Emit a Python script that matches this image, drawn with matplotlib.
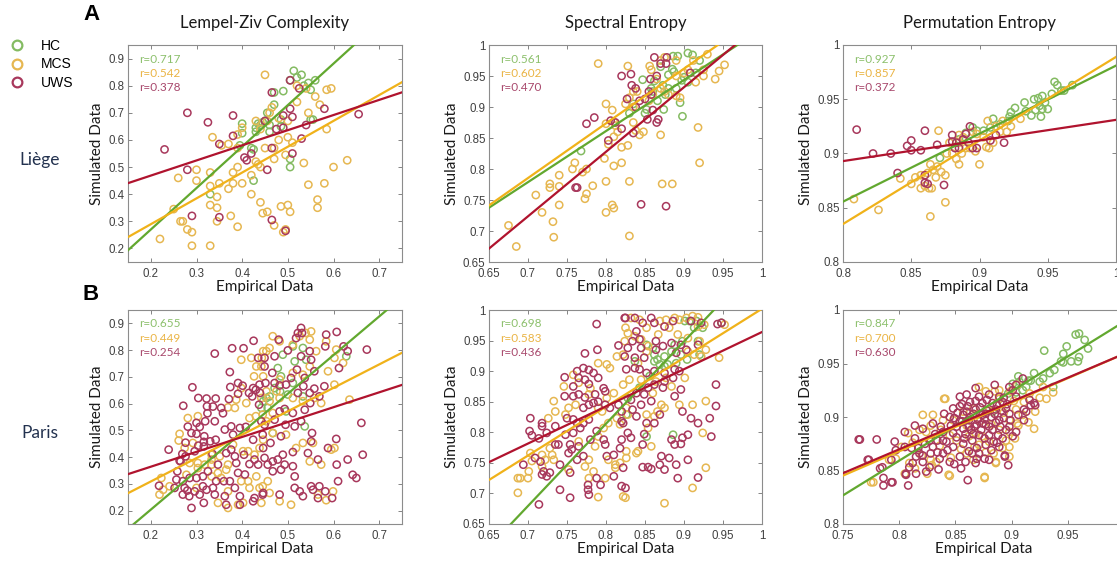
import numpy as np
import matplotlib
matplotlib.use('Agg')
import matplotlib.pyplot as plt
from matplotlib.lines import Line2D
from matplotlib.ticker import FuncFormatter

plt.rcParams['font.family'] = ['Liberation Sans', 'DejaVu Sans']

groups = ['HC', 'MCS', 'UWS']
metrics = ['Lempel-Ziv Complexity', 'Spectral Entropy', 'Permutation Entropy']
sites = ['Liège', 'Paris']

marker_colors = ['#84bb62', '#e6b751', '#a8385c']
line_colors = ['#62a82f', '#f0b21a', '#b0132e']
text_colors = ['#8cc06c', '#eab445', '#a8486c']

# correlation coefficients per metric, in group order HC, MCS, UWS
r_liege = [[0.717, 0.542, 0.378], [0.561, 0.602, 0.470], [0.927, 0.857, 0.372]]
r_paris = [[0.655, 0.449, 0.254], [0.698, 0.583, 0.436], [0.847, 0.700, 0.630]]

# least-squares fits (slope, intercept) per metric and group
fit_liege = [[(1.529, -0.036), (0.952, 0.099), (0.558, 0.357)],
             [(0.824, 0.202), (0.882, 0.168), (1.041, -0.005)],
             [(0.627, 0.354), (0.770, 0.219), (0.190, 0.741)]]
fit_paris = [[(1.444, -0.085), (0.875, 0.134), (0.556, 0.253)],
             [(1.345, -0.262), (0.800, 0.202), (0.608, 0.356)],
             [(0.649, 0.340), (0.455, 0.504), (0.446, 0.513)]]

# ---- Liège, Lempel-Ziv complexity (empirical, simulated)
lzc_liege_hc = [(0.513, 0.855), (0.53, 0.84), (0.52, 0.83), (0.505, 0.82), (0.535, 0.80), (0.55, 0.785),
                (0.545, 0.81), (0.56, 0.82), (0.49, 0.78), (0.47, 0.775), (0.47, 0.73), (0.455, 0.70),
                (0.445, 0.665), (0.44, 0.655), (0.43, 0.645), (0.435, 0.66), (0.45, 0.67), (0.46, 0.655),
                (0.40, 0.66), (0.40, 0.625), (0.395, 0.58), (0.42, 0.57), (0.425, 0.565), (0.425, 0.45),
                (0.33, 0.40), (0.505, 0.53), (0.505, 0.50), (0.55, 0.675), (0.555, 0.675), (0.485, 0.675),
                (0.46, 0.63), (0.485, 0.65), (0.43, 0.63)]
lzc_liege_mcs = [(0.45, 0.84), (0.52, 0.80), (0.54, 0.79), (0.56, 0.76), (0.585, 0.785), (0.595, 0.79),
                 (0.57, 0.73), (0.545, 0.70), (0.52, 0.74), (0.50, 0.67), (0.48, 0.68), (0.465, 0.72),
                 (0.46, 0.70), (0.455, 0.67), (0.44, 0.64), (0.43, 0.67), (0.40, 0.645), (0.39, 0.62),
                 (0.37, 0.585), (0.335, 0.61), (0.39, 0.57), (0.45, 0.57), (0.47, 0.57), (0.48, 0.60),
                 (0.50, 0.61), (0.51, 0.59), (0.43, 0.52), (0.435, 0.51), (0.44, 0.50), (0.39, 0.50),
                 (0.38, 0.48), (0.42, 0.47), (0.40, 0.44), (0.47, 0.53), (0.495, 0.545), (0.535, 0.515),
                 (0.545, 0.435), (0.58, 0.44), (0.585, 0.64), (0.60, 0.50), (0.63, 0.525), (0.33, 0.48),
                 (0.35, 0.44), (0.33, 0.43), (0.26, 0.46), (0.30, 0.45), (0.37, 0.42), (0.38, 0.44),
                 (0.345, 0.39), (0.33, 0.36), (0.345, 0.35), (0.265, 0.30), (0.27, 0.30), (0.25, 0.345),
                 (0.22, 0.235), (0.28, 0.27), (0.29, 0.26), (0.29, 0.21), (0.33, 0.21), (0.345, 0.30),
                 (0.375, 0.32), (0.39, 0.28), (0.42, 0.40), (0.44, 0.37), (0.445, 0.33), (0.455, 0.335),
                 (0.47, 0.285), (0.485, 0.355), (0.49, 0.26), (0.50, 0.36), (0.505, 0.335), (0.495, 0.27),
                 (0.565, 0.38), (0.565, 0.35), (0.355, 0.58), (0.30, 0.49)]
lzc_liege_uws = [(0.505, 0.82), (0.525, 0.79), (0.465, 0.775), (0.475, 0.64), (0.45, 0.67), (0.49, 0.69),
                 (0.505, 0.715), (0.51, 0.685), (0.49, 0.645), (0.53, 0.605), (0.54, 0.655), (0.58, 0.715),
                 (0.655, 0.695), (0.38, 0.69), (0.38, 0.615), (0.325, 0.665), (0.28, 0.70), (0.35, 0.585),
                 (0.23, 0.565), (0.28, 0.49), (0.41, 0.525), (0.405, 0.535), (0.42, 0.55), (0.465, 0.57),
                 (0.455, 0.49), (0.51, 0.55), (0.29, 0.32), (0.35, 0.315), (0.465, 0.305), (0.495, 0.265)]

# ---- Liège, spectral entropy
se_liege_hc = [(0.905, 0.987), (0.911, 0.984), (0.886, 0.982), (0.892, 0.982), (0.92, 0.975), (0.885, 0.961),
               (0.887, 0.957), (0.88, 0.952), (0.90, 0.948), (0.905, 0.94), (0.897, 0.943), (0.847, 0.944),
               (0.862, 0.942), (0.873, 0.935), (0.88, 0.93), (0.89, 0.93), (0.895, 0.907), (0.898, 0.885),
               (0.874, 0.896), (0.876, 0.92), (0.858, 0.93), (0.852, 0.896), (0.866, 0.91), (0.85, 0.89),
               (0.768, 0.829), (0.835, 0.905), (0.86, 0.925), (0.83, 0.89), (0.915, 0.955), (0.87, 0.965)]
se_liege_mcs = [(0.79, 0.97), (0.828, 0.966), (0.856, 0.966), (0.858, 0.96), (0.87, 0.975), (0.875, 0.98),
                (0.89, 0.975), (0.912, 0.975), (0.925, 0.96), (0.93, 0.985), (0.945, 0.958), (0.952, 0.968),
                (0.94, 0.945), (0.925, 0.95), (0.915, 0.94), (0.905, 0.96), (0.90, 0.955), (0.89, 0.95),
                (0.835, 0.925), (0.84, 0.925), (0.83, 0.915), (0.835, 0.9), (0.825, 0.905), (0.855, 0.91),
                (0.86, 0.92), (0.865, 0.945), (0.87, 0.93), (0.875, 0.925), (0.88, 0.92), (0.89, 0.918),
                (0.895, 0.915), (0.80, 0.905), (0.808, 0.895), (0.81, 0.876), (0.815, 0.86), (0.81, 0.852),
                (0.803, 0.84), (0.82, 0.835), (0.828, 0.838), (0.835, 0.875), (0.838, 0.862), (0.843, 0.855),
                (0.848, 0.86), (0.87, 0.855), (0.798, 0.817), (0.76, 0.81), (0.757, 0.80), (0.775, 0.80),
                (0.77, 0.795), (0.74, 0.79), (0.81, 0.805), (0.82, 0.81), (0.728, 0.776), (0.728, 0.77),
                (0.74, 0.772), (0.71, 0.758), (0.775, 0.76), (0.773, 0.752), (0.783, 0.773), (0.80, 0.78),
                (0.74, 0.742), (0.808, 0.742), (0.81, 0.737), (0.80, 0.73), (0.718, 0.73), (0.732, 0.715),
                (0.733, 0.69), (0.675, 0.709), (0.685, 0.675), (0.83, 0.78), (0.83, 0.692), (0.872, 0.776),
                (0.885, 0.776), (0.918, 0.867), (0.92, 0.81), (0.80, 0.873), (0.812, 0.87)]
se_liege_uws = [(0.862, 0.98), (0.878, 0.98), (0.877, 0.97), (0.865, 0.95), (0.857, 0.945), (0.82, 0.95),
                (0.832, 0.953), (0.833, 0.935), (0.838, 0.93), (0.827, 0.913), (0.843, 0.91), (0.855, 0.925),
                (0.858, 0.92), (0.85, 0.913), (0.86, 0.895), (0.853, 0.88), (0.867, 0.88), (0.865, 0.875),
                (0.838, 0.90), (0.835, 0.858), (0.82, 0.865), (0.812, 0.875), (0.806, 0.878), (0.785, 0.883),
                (0.775, 0.873), (0.803, 0.846), (0.761, 0.77), (0.763, 0.77), (0.845, 0.743), (0.877, 0.74),
                (0.908, 0.955), (0.87, 0.97)]

# ---- Liège, permutation entropy
pe_liege_hc = [(0.968, 0.963), (0.955, 0.966), (0.957, 0.963), (0.96, 0.958), (0.953, 0.955), (0.948, 0.947),
               (0.946, 0.941), (0.95, 0.941), (0.945, 0.934), (0.944, 0.944), (0.941, 0.94), (0.94, 0.95),
               (0.943, 0.951), (0.946, 0.953), (0.938, 0.935), (0.934, 0.939), (0.933, 0.947), (0.926, 0.942),
               (0.923, 0.938), (0.922, 0.934), (0.921, 0.93), (0.915, 0.927), (0.91, 0.932), (0.908, 0.924),
               (0.903, 0.921), (0.898, 0.921), (0.895, 0.924), (0.89, 0.919), (0.885, 0.913), (0.871, 0.896),
               (0.962, 0.958)]
pe_liege_mcs = [(0.808, 0.858), (0.826, 0.848), (0.864, 0.842), (0.875, 0.855), (0.85, 0.872), (0.853, 0.878),
                (0.857, 0.88), (0.862, 0.882), (0.864, 0.89), (0.866, 0.885), (0.869, 0.888), (0.868, 0.878),
                (0.872, 0.883), (0.875, 0.88), (0.857, 0.868), (0.86, 0.87), (0.863, 0.868), (0.865, 0.868),
                (0.842, 0.877), (0.87, 0.921), (0.876, 0.9), (0.88, 0.9), (0.883, 0.895), (0.885, 0.89),
                (0.887, 0.9), (0.89, 0.905), (0.893, 0.905), (0.897, 0.902), (0.9, 0.89), (0.888, 0.915),
                (0.885, 0.917), (0.895, 0.92), (0.898, 0.918), (0.903, 0.915), (0.905, 0.906), (0.907, 0.905),
                (0.91, 0.91), (0.906, 0.93), (0.912, 0.925), (0.917, 0.93), (0.915, 0.92), (0.92, 0.92),
                (0.923, 0.925), (0.93, 0.932), (0.885, 0.91), (0.878, 0.91)]
pe_liege_uws = [(0.81, 0.922), (0.822, 0.9), (0.835, 0.9), (0.84, 0.882), (0.847, 0.907), (0.85, 0.912),
                (0.85, 0.903), (0.857, 0.903), (0.86, 0.921), (0.86, 0.88), (0.86, 0.873), (0.862, 0.872),
                (0.869, 0.908), (0.874, 0.871), (0.88, 0.917), (0.88, 0.911), (0.882, 0.905), (0.885, 0.905),
                (0.888, 0.913), (0.89, 0.918), (0.893, 0.925), (0.892, 0.91), (0.895, 0.905), (0.898, 0.905),
                (0.908, 0.912), (0.912, 0.917), (0.918, 0.91), (0.883, 0.91)]

# ---- Paris, Lempel-Ziv complexity
lzc_paris_hc = [(0.511, 0.814), (0.533, 0.808), (0.489, 0.783), (0.540, 0.764), (0.485, 0.702), (0.471, 0.658),
                (0.511, 0.677), (0.460, 0.627), (0.453, 0.621), (0.533, 0.627), (0.537, 0.515), (0.467, 0.490),
                (0.496, 0.571), (0.515, 0.758), (0.478, 0.733), (0.456, 0.584), (0.500, 0.634), (0.628, 0.777),
                (0.483, 0.646), (0.446, 0.609), (0.442, 0.584)]
lzc_paris_mcs = [(0.398, 0.764), (0.420, 0.771), (0.431, 0.739), (0.446, 0.796), (0.426, 0.702), (0.446, 0.702),
                 (0.398, 0.658), (0.387, 0.615), (0.409, 0.602), (0.369, 0.586), (0.384, 0.584), (0.430, 0.553),
                 (0.416, 0.546), (0.303, 0.553), (0.281, 0.546), (0.263, 0.487), (0.261, 0.462), (0.292, 0.453),
                 (0.274, 0.434), (0.303, 0.378), (0.285, 0.378), (0.333, 0.409), (0.351, 0.403), (0.369, 0.372),
                 (0.347, 0.341), (0.365, 0.353), (0.402, 0.422), (0.413, 0.422), (0.427, 0.409), (0.438, 0.434),
                 (0.333, 0.372), (0.303, 0.359), (0.223, 0.322), (0.227, 0.278), (0.241, 0.291), (0.219, 0.260),
                 (0.300, 0.285), (0.333, 0.328), (0.354, 0.322), (0.398, 0.310), (0.413, 0.310), (0.431, 0.328),
                 (0.438, 0.285), (0.369, 0.272), (0.416, 0.285), (0.347, 0.229), (0.369, 0.210), (0.391, 0.222),
                 (0.402, 0.229), (0.318, 0.372), (0.278, 0.334), (0.380, 0.447), (0.446, 0.465), (0.443, 0.771),
                 (0.333, 0.391), (0.467, 0.852), (0.453, 0.796), (0.442, 0.739), (0.460, 0.808), (0.482, 0.833),
                 (0.511, 0.820), (0.526, 0.852), (0.548, 0.839), (0.551, 0.870), (0.539, 0.864), (0.562, 0.796),
                 (0.584, 0.833), (0.606, 0.802), (0.602, 0.771), (0.621, 0.752), (0.588, 0.721), (0.548, 0.739),
                 (0.533, 0.708), (0.511, 0.715), (0.482, 0.690), (0.475, 0.646), (0.453, 0.646), (0.442, 0.621),
                 (0.460, 0.609), (0.482, 0.621), (0.511, 0.621), (0.533, 0.609), (0.558, 0.621), (0.573, 0.602),
                 (0.602, 0.671), (0.635, 0.615), (0.445, 0.559), (0.467, 0.565), (0.453, 0.534), (0.467, 0.490),
                 (0.496, 0.484), (0.518, 0.434), (0.533, 0.453), (0.555, 0.453), (0.548, 0.384), (0.595, 0.428),
                 (0.602, 0.434), (0.573, 0.372), (0.456, 0.310), (0.445, 0.291), (0.442, 0.229), (0.460, 0.266),
                 (0.482, 0.235), (0.507, 0.222), (0.566, 0.260), (0.584, 0.239), (0.599, 0.272)]
lzc_paris_uws = [(0.425, 0.835), (0.340, 0.787), (0.378, 0.807), (0.403, 0.807), (0.291, 0.661), (0.271, 0.592),
                 (0.304, 0.621), (0.322, 0.619), (0.342, 0.619), (0.323, 0.590), (0.336, 0.589), (0.371, 0.617),
                 (0.391, 0.637), (0.373, 0.718), (0.401, 0.667), (0.424, 0.658), (0.374, 0.662), (0.415, 0.640),
                 (0.430, 0.652), (0.439, 0.640), (0.324, 0.564), (0.358, 0.564), (0.340, 0.534), (0.319, 0.534),
                 (0.300, 0.528), (0.307, 0.513), (0.281, 0.514), (0.289, 0.490), (0.300, 0.487), (0.317, 0.478),
                 (0.316, 0.457), (0.330, 0.459), (0.342, 0.465), (0.362, 0.503), (0.376, 0.515), (0.380, 0.484),
                 (0.395, 0.509), (0.408, 0.513), (0.424, 0.465), (0.316, 0.440), (0.304, 0.443), (0.335, 0.412),
                 (0.276, 0.454), (0.276, 0.403), (0.269, 0.412), (0.265, 0.384), (0.239, 0.428), (0.296, 0.422),
                 (0.365, 0.415), (0.376, 0.428), (0.384, 0.403), (0.387, 0.378), (0.404, 0.409), (0.416, 0.374),
                 (0.427, 0.391), (0.435, 0.372), (0.347, 0.372), (0.325, 0.347), (0.314, 0.328), (0.300, 0.322),
                 (0.285, 0.322), (0.270, 0.310), (0.256, 0.316), (0.252, 0.285), (0.274, 0.285), (0.280, 0.275),
                 (0.270, 0.260), (0.284, 0.254), (0.296, 0.272), (0.314, 0.291), (0.322, 0.278), (0.343, 0.310),
                 (0.360, 0.310), (0.373, 0.310), (0.391, 0.341), (0.406, 0.335), (0.384, 0.285), (0.395, 0.254),
                 (0.362, 0.254), (0.340, 0.260), (0.336, 0.285), (0.307, 0.260), (0.289, 0.210), (0.316, 0.229),
                 (0.365, 0.222), (0.395, 0.222), (0.427, 0.247), (0.424, 0.235), (0.218, 0.293), (0.258, 0.347),
                 (0.263, 0.387), (0.446, 0.266), (0.446, 0.434), (0.435, 0.771), (0.449, 0.739), (0.438, 0.671),
                 (0.422, 0.627), (0.437, 0.596), (0.442, 0.534), (0.354, 0.584), (0.391, 0.677),
                 (0.529, 0.883), (0.522, 0.864), (0.531, 0.864), (0.518, 0.845), (0.480, 0.839), (0.449, 0.771),
                 (0.471, 0.777), (0.500, 0.799), (0.529, 0.777), (0.548, 0.796), (0.584, 0.858), (0.607, 0.868),
                 (0.582, 0.814), (0.622, 0.814), (0.631, 0.796), (0.673, 0.802), (0.612, 0.733), (0.551, 0.764),
                 (0.558, 0.721), (0.520, 0.727), (0.537, 0.696), (0.534, 0.665), (0.507, 0.696), (0.496, 0.671),
                 (0.482, 0.668), (0.471, 0.677), (0.451, 0.677), (0.466, 0.715), (0.522, 0.640), (0.548, 0.640),
                 (0.558, 0.656), (0.569, 0.627), (0.549, 0.602), (0.580, 0.665), (0.537, 0.577), (0.511, 0.565),
                 (0.493, 0.580), (0.482, 0.571), (0.471, 0.540), (0.495, 0.521), (0.529, 0.534), (0.515, 0.515),
                 (0.449, 0.521), (0.445, 0.484), (0.462, 0.453), (0.485, 0.478), (0.489, 0.409), (0.478, 0.391),
                 (0.467, 0.384), (0.456, 0.372), (0.467, 0.347), (0.485, 0.353), (0.493, 0.372), (0.511, 0.366),
                 (0.515, 0.328), (0.544, 0.415), (0.566, 0.391), (0.551, 0.459), (0.553, 0.490), (0.588, 0.434),
                 (0.606, 0.468), (0.607, 0.372), (0.631, 0.391), (0.661, 0.528), (0.664, 0.409), (0.642, 0.334),
                 (0.650, 0.322), (0.610, 0.310), (0.597, 0.247), (0.582, 0.272), (0.569, 0.291), (0.566, 0.247),
                 (0.555, 0.278), (0.551, 0.291), (0.526, 0.272), (0.515, 0.285), (0.533, 0.254), (0.482, 0.260),
                 (0.445, 0.260), (0.449, 0.397), (0.511, 0.419)]

# ---- Paris, spectral entropy
se_paris_hc = [(0.852, 0.943), (0.860, 0.938), (0.862, 0.927), (0.866, 0.919), (0.875, 0.924), (0.884, 0.932),
               (0.879, 0.911), (0.890, 0.913), (0.862, 0.916), (0.869, 0.911), (0.901, 0.982), (0.907, 0.982),
               (0.916, 0.982), (0.924, 0.971), (0.913, 0.971), (0.918, 0.949), (0.898, 0.949), (0.896, 0.927),
               (0.904, 0.919), (0.920, 0.927), (0.888, 0.943), (0.875, 0.908), (0.856, 0.892), (0.843, 0.873),
               (0.828, 0.856), (0.826, 0.829), (0.852, 0.793), (0.886, 0.796), (0.837, 0.916), (0.948, 0.979)]
se_paris_mcs = [(0.825, 0.971), (0.814, 0.924), (0.822, 0.927), (0.801, 0.911), (0.805, 0.905), (0.790, 0.913),
                (0.758, 0.894), (0.765, 0.881), (0.780, 0.872), (0.761, 0.845), (0.752, 0.840), (0.748, 0.829),
                (0.733, 0.851), (0.746, 0.875), (0.778, 0.862), (0.790, 0.840), (0.795, 0.834), (0.801, 0.856),
                (0.810, 0.864), (0.822, 0.878), (0.814, 0.823), (0.818, 0.813), (0.803, 0.815), (0.790, 0.793),
                (0.797, 0.807), (0.786, 0.777), (0.728, 0.774), (0.731, 0.763), (0.733, 0.755), (0.722, 0.755),
                (0.718, 0.763), (0.703, 0.766), (0.705, 0.753), (0.718, 0.744), (0.701, 0.736), (0.700, 0.725),
                (0.687, 0.725), (0.690, 0.725), (0.687, 0.701), (0.752, 0.739), (0.773, 0.744), (0.778, 0.755),
                (0.784, 0.736), (0.778, 0.725), (0.803, 0.755), (0.812, 0.747), (0.818, 0.750), (0.812, 0.742),
                (0.765, 0.785), (0.790, 0.694), (0.825, 0.693), (0.799, 0.725), (0.726, 0.823), (0.735, 0.834),
                (0.832, 0.987), (0.843, 0.984), (0.869, 0.982), (0.877, 0.984), (0.888, 0.987), (0.894, 0.984),
                (0.903, 0.987), (0.911, 0.990), (0.918, 0.988), (0.926, 0.976), (0.918, 0.973), (0.881, 0.971),
                (0.852, 0.971), (0.828, 0.962), (0.837, 0.957), (0.845, 0.952), (0.824, 0.949), (0.854, 0.941),
                (0.852, 0.932), (0.867, 0.960), (0.892, 0.960), (0.905, 0.954), (0.920, 0.949), (0.928, 0.935),
                (0.922, 0.924), (0.913, 0.927), (0.905, 0.932), (0.841, 0.913), (0.830, 0.886), (0.845, 0.886),
                (0.864, 0.883), (0.877, 0.889), (0.884, 0.875), (0.901, 0.889), (0.860, 0.864), (0.871, 0.845),
                (0.875, 0.840), (0.866, 0.834), (0.862, 0.826), (0.852, 0.829), (0.828, 0.829), (0.826, 0.840),
                (0.945, 0.922), (0.911, 0.845), (0.928, 0.851), (0.894, 0.845), (0.924, 0.799), (0.854, 0.807),
                (0.858, 0.777), (0.841, 0.769), (0.839, 0.766), (0.826, 0.769), (0.826, 0.758), (0.875, 0.684),
                (0.911, 0.709), (0.928, 0.742), (0.822, 0.695), (0.952, 0.976)]
se_paris_uws = [(0.788, 0.977), (0.825, 0.987), (0.773, 0.929), (0.789, 0.935), (0.816, 0.942), (0.747, 0.890),
                (0.763, 0.900), (0.771, 0.905), (0.778, 0.902), (0.784, 0.897), (0.765, 0.889), (0.758, 0.875),
                (0.773, 0.886), (0.778, 0.879), (0.790, 0.889), (0.797, 0.872), (0.799, 0.867), (0.786, 0.862),
                (0.773, 0.857), (0.765, 0.862), (0.758, 0.859), (0.747, 0.859), (0.771, 0.840), (0.778, 0.845),
                (0.784, 0.848), (0.790, 0.850), (0.799, 0.845), (0.805, 0.840), (0.816, 0.845), (0.820, 0.834),
                (0.750, 0.823), (0.758, 0.821), (0.763, 0.815), (0.778, 0.821), (0.771, 0.815), (0.767, 0.807),
                (0.758, 0.799), (0.748, 0.796), (0.735, 0.810), (0.718, 0.815), (0.718, 0.810), (0.703, 0.823),
                (0.702, 0.802), (0.705, 0.795), (0.714, 0.790), (0.724, 0.799), (0.735, 0.780), (0.739, 0.780),
                (0.754, 0.780), (0.756, 0.772), (0.752, 0.766), (0.765, 0.777), (0.763, 0.755), (0.771, 0.761),
                (0.780, 0.788), (0.788, 0.802), (0.797, 0.788), (0.799, 0.780), (0.801, 0.761), (0.810, 0.763),
                (0.820, 0.788), (0.709, 0.758), (0.716, 0.752), (0.720, 0.736), (0.728, 0.734), (0.718, 0.731),
                (0.724, 0.728), (0.694, 0.747), (0.741, 0.747), (0.754, 0.734), (0.741, 0.706), (0.754, 0.693),
                (0.777, 0.714), (0.777, 0.706), (0.778, 0.698), (0.788, 0.725), (0.793, 0.714), (0.810, 0.728),
                (0.714, 0.682), (0.820, 0.818), (0.818, 0.774), (0.822, 0.742), (0.825, 0.709),
                (0.824, 0.987), (0.837, 0.987), (0.858, 0.987), (0.862, 0.979), (0.847, 0.979), (0.839, 0.965),
                (0.875, 0.973), (0.886, 0.982), (0.909, 0.982), (0.922, 0.979), (0.943, 0.977), (0.948, 0.979),
                (0.834, 0.949), (0.843, 0.952), (0.845, 0.938), (0.828, 0.938), (0.824, 0.924), (0.837, 0.922),
                (0.849, 0.922), (0.864, 0.935), (0.864, 0.949), (0.873, 0.941), (0.884, 0.946), (0.896, 0.943),
                (0.890, 0.930), (0.903, 0.935), (0.918, 0.943), (0.826, 0.903), (0.837, 0.905), (0.843, 0.903),
                (0.852, 0.897), (0.862, 0.900), (0.875, 0.897), (0.888, 0.903), (0.894, 0.900), (0.875, 0.883),
                (0.862, 0.878), (0.854, 0.873), (0.849, 0.862), (0.839, 0.864), (0.832, 0.853), (0.834, 0.837),
                (0.845, 0.845), (0.858, 0.851), (0.873, 0.873), (0.886, 0.889), (0.896, 0.870), (0.888, 0.859),
                (0.941, 0.878), (0.941, 0.843), (0.933, 0.823), (0.918, 0.815), (0.909, 0.823), (0.898, 0.834),
                (0.869, 0.829), (0.852, 0.815), (0.839, 0.826), (0.862, 0.815), (0.822, 0.815), (0.828, 0.799),
                (0.832, 0.791), (0.849, 0.797), (0.847, 0.780), (0.884, 0.788), (0.888, 0.780), (0.898, 0.791),
                (0.905, 0.796), (0.896, 0.781), (0.935, 0.793), (0.871, 0.761), (0.881, 0.758), (0.905, 0.755),
                (0.890, 0.747), (0.847, 0.743), (0.854, 0.743), (0.858, 0.740), (0.869, 0.747), (0.875, 0.739),
                (0.892, 0.725), (0.918, 0.726), (0.820, 0.712)]

# ---- Paris, permutation entropy
pe_paris_hc = [(0.957, 0.977), (0.960, 0.978), (0.965, 0.972), (0.968, 0.964), (0.960, 0.956), (0.949, 0.966),
               (0.946, 0.959), (0.944, 0.952), (0.953, 0.952), (0.959, 0.952), (0.938, 0.944), (0.934, 0.941),
               (0.929, 0.962), (0.928, 0.936), (0.920, 0.941), (0.925, 0.933), (0.917, 0.934), (0.913, 0.928),
               (0.910, 0.925), (0.907, 0.933), (0.901, 0.931), (0.906, 0.938), (0.904, 0.923), (0.889, 0.917),
               (0.883, 0.905), (0.897, 0.922), (0.937, 0.928), (0.946, 0.951), (0.915, 0.934)]
pe_paris_mcs = [(0.840, 0.917), (0.871, 0.928), (0.877, 0.924), (0.889, 0.925), (0.899, 0.924), (0.905, 0.930),
                (0.916, 0.922), (0.911, 0.914), (0.904, 0.907), (0.898, 0.897), (0.905, 0.894), (0.898, 0.886),
                (0.889, 0.888), (0.880, 0.877), (0.895, 0.878), (0.892, 0.871), (0.877, 0.867), (0.867, 0.872),
                (0.860, 0.866), (0.845, 0.883), (0.837, 0.888), (0.828, 0.892), (0.821, 0.902), (0.808, 0.885),
                (0.830, 0.902), (0.848, 0.897), (0.860, 0.892), (0.839, 0.897), (0.820, 0.864), (0.828, 0.860),
                (0.833, 0.858), (0.814, 0.852), (0.809, 0.857), (0.791, 0.860), (0.777, 0.839), (0.825, 0.847),
                (0.844, 0.846), (0.876, 0.844), (0.886, 0.858), (0.898, 0.872), (0.889, 0.917), (0.885, 0.924),
                (0.851, 0.878), (0.874, 0.882), (0.862, 0.882), (0.871, 0.874), (0.824, 0.886), (0.818, 0.888),
                (0.802, 0.872), (0.797, 0.861), (0.775, 0.839), (0.805, 0.847), (0.829, 0.855), (0.845, 0.845),
                (0.876, 0.843), (0.886, 0.857), (0.898, 0.863), (0.906, 0.892), (0.928, 0.928), (0.937, 0.923),
                (0.931, 0.917), (0.841, 0.917), (0.866, 0.908), (0.872, 0.896), (0.880, 0.906), (0.893, 0.904),
                (0.902, 0.915), (0.910, 0.902), (0.915, 0.895), (0.921, 0.905), (0.925, 0.918), (0.882, 0.893),
                (0.868, 0.885), (0.855, 0.870), (0.846, 0.862), (0.836, 0.873), (0.857, 0.905), (0.920, 0.889),
                (0.903, 0.880), (0.884, 0.866), (0.866, 0.860), (0.812, 0.876)]
pe_paris_uws = [(0.765, 0.879), (0.780, 0.879), (0.796, 0.877), (0.785, 0.853), (0.786, 0.836), (0.794, 0.839),
                (0.805, 0.886), (0.814, 0.892), (0.821, 0.889), (0.806, 0.846), (0.812, 0.857), (0.821, 0.864),
                (0.834, 0.867), (0.834, 0.878), (0.839, 0.886), (0.830, 0.894), (0.840, 0.903), (0.848, 0.908),
                (0.854, 0.919), (0.860, 0.921), (0.868, 0.927), (0.885, 0.930), (0.898, 0.928), (0.874, 0.913),
                (0.880, 0.921), (0.889, 0.919), (0.904, 0.919), (0.911, 0.907), (0.917, 0.911), (0.920, 0.913),
                (0.910, 0.936), (0.904, 0.930), (0.849, 0.899), (0.857, 0.902), (0.862, 0.897), (0.868, 0.907),
                (0.877, 0.903), (0.886, 0.907), (0.895, 0.908), (0.898, 0.903), (0.889, 0.897), (0.880, 0.891),
                (0.874, 0.894), (0.864, 0.888), (0.857, 0.889), (0.848, 0.885), (0.842, 0.877), (0.848, 0.872),
                (0.857, 0.875), (0.865, 0.878), (0.871, 0.883), (0.880, 0.883), (0.888, 0.883), (0.895, 0.888),
                (0.904, 0.886), (0.854, 0.863), (0.865, 0.866), (0.877, 0.874), (0.889, 0.872), (0.894, 0.864),
                (0.880, 0.860), (0.868, 0.857), (0.855, 0.852), (0.845, 0.858), (0.836, 0.861), (0.827, 0.853),
                (0.821, 0.858), (0.817, 0.871), (0.811, 0.871), (0.805, 0.872), (0.827, 0.878), (0.851, 0.891),
                (0.861, 0.910), (0.871, 0.919), (0.854, 0.910), (0.845, 0.900), (0.883, 0.913), (0.854, 0.896),
                (0.867, 0.891), (0.874, 0.902), (0.892, 0.914), (0.839, 0.866), (0.830, 0.872), (0.814, 0.880),
                (0.797, 0.869), (0.772, 0.860), (0.793, 0.860), (0.809, 0.853), (0.806, 0.847), (0.861, 0.841),
                (0.876, 0.861), (0.824, 0.849), (0.898, 0.891), (0.901, 0.882), (0.911, 0.897), (0.916, 0.916),
                (0.808, 0.836), (0.764, 0.879), (0.773, 0.860), (0.786, 0.843), (0.793, 0.839), (0.783, 0.852),
                (0.815, 0.847), (0.869, 0.861), (0.894, 0.863), (0.897, 0.855), (0.921, 0.911), (0.913, 0.905),
                (0.852, 0.904), (0.856, 0.896), (0.860, 0.905), (0.863, 0.900), (0.866, 0.903), (0.870, 0.898),
                (0.872, 0.909), (0.876, 0.898), (0.878, 0.906), (0.882, 0.900), (0.885, 0.903), (0.887, 0.911),
                (0.891, 0.906), (0.893, 0.899), (0.896, 0.912), (0.851, 0.881), (0.859, 0.884), (0.862, 0.891),
                (0.866, 0.884), (0.869, 0.893), (0.873, 0.888), (0.877, 0.893), (0.883, 0.888), (0.886, 0.895),
                (0.890, 0.891), (0.892, 0.880), (0.884, 0.877), (0.876, 0.880), (0.869, 0.871), (0.862, 0.868),
                (0.858, 0.880), (0.846, 0.892), (0.843, 0.869), (0.839, 0.878), (0.832, 0.884), (0.823, 0.875),
                (0.818, 0.866), (0.835, 0.851), (0.849, 0.856), (0.859, 0.858), (0.871, 0.866), (0.882, 0.869),
                (0.887, 0.876), (0.899, 0.897), (0.906, 0.902), (0.863, 0.914), (0.878, 0.916), (0.868, 0.915),
                (0.856, 0.912), (0.901, 0.925), (0.893, 0.918), (0.828, 0.866), (0.837, 0.891), (0.815, 0.863)]

scatter_data = [
    [[lzc_liege_hc, lzc_liege_mcs, lzc_liege_uws],
     [se_liege_hc, se_liege_mcs, se_liege_uws],
     [pe_liege_hc, pe_liege_mcs, pe_liege_uws]],
    [[lzc_paris_hc, lzc_paris_mcs, lzc_paris_uws],
     [se_paris_hc, se_paris_mcs, se_paris_uws],
     [pe_paris_hc, pe_paris_mcs, pe_paris_uws]],
]
fits = [fit_liege, fit_paris]
rvals = [r_liege, r_paris]

xlims = [[(0.15, 0.75), (0.65, 1.0), (0.8, 1.0)], [(0.15, 0.75), (0.65, 1.0), (0.75, 1.0)]]
ylims = [(0.15, 0.95), (0.65, 1.0), (0.8, 1.0)]
xticks = [[np.arange(0.2, 0.71, 0.1), np.arange(0.65, 1.001, 0.05), np.arange(0.8, 1.001, 0.05)],
          [np.arange(0.2, 0.71, 0.1), np.arange(0.65, 1.001, 0.05), np.arange(0.75, 1.001, 0.05)]]
yticks = [np.arange(0.2, 0.91, 0.1), np.arange(0.65, 1.001, 0.05), np.arange(0.8, 1.001, 0.05)]

W, H = 1117, 561
# axes boxes in pixels: left, top, right, bottom
col_px = [(128, 402), (489, 762), (843, 1116)]
row_px = [(45, 262), (310, 524)]

fmt = FuncFormatter(lambda v, p: '%g' % round(v, 3))

fig = plt.figure(figsize=(W / 100, H / 100), dpi=100)

for i in range(2):
    for j in range(3):
        l, r = col_px[j]
        if i == 1 and j == 2:
            r = 1124
        t, b = row_px[i]
        ax = fig.add_axes([l / W, 1 - b / H, (r - l) / W, (b - t) / H])
        for k in range(3):
            pts = np.array(scatter_data[i][j][k])
            ax.scatter(pts[:, 0], pts[:, 1], s=27, facecolors='none',
                       edgecolors=marker_colors[k], linewidths=1.1, zorder=2 + k)
        xs = np.array(xlims[i][j])
        for k in range(3):
            m, c = fits[i][j][k]
            ax.plot(xs, m * xs + c, color=line_colors[k], lw=1.6, zorder=6)
        for k in range(3):
            ax.text(0.04, 0.935 - k * 0.066, 'r=%.3f' % rvals[i][j][k], transform=ax.transAxes,
                    color=text_colors[k], fontsize=8.5, family=['Lato', 'DejaVu Sans'],
                    va='center', ha='left', zorder=8)
        ax.set_xlim(xlims[i][j])
        ax.set_ylim(ylims[j])
        ax.set_xticks(xticks[i][j])
        ax.set_yticks(yticks[j])
        ax.xaxis.set_major_formatter(fmt)
        ax.yaxis.set_major_formatter(fmt)
        ax.tick_params(direction='in', top=True, right=True, length=3, width=0.6,
                       color='#707070', labelcolor='#404040', labelsize=8.3)
        ax.tick_params(axis='x', pad=4)
        ax.tick_params(axis='y', pad=2.5)
        for s in ax.spines.values():
            s.set_color('#8c8c8c')
            s.set_linewidth(0.8)
        ax.set_xlabel('Empirical Data', fontsize=11, family=['Lato', 'DejaVu Sans'],
                      color='#1a1a1a', labelpad=0)
        ax.set_ylabel('Simulated Data', fontsize=11, family=['Lato', 'DejaVu Sans'],
                      color='#1a1a1a', labelpad=3)
        if i == 0:
            ax.set_title(metrics[j], fontsize=12, family=['Lato', 'DejaVu Sans'],
                         color='#1a1a1a', pad=12)

# panel letters and site labels
fig.text(92 / W, 1 - 15 / H, 'A', fontsize=16, fontweight='bold', ha='center', va='center')
fig.text(91 / W, 1 - 295 / H, 'B', fontsize=16, fontweight='bold', ha='center', va='center')
fig.text(40 / W, 1 - 160 / H, sites[0], fontsize=12.5, family=['Lato', 'DejaVu Sans'],
         color='#23324f', ha='center', va='center')
fig.text(40 / W, 1 - 433 / H, sites[1], fontsize=12.5, family=['Lato', 'DejaVu Sans'],
         color='#23324f', ha='center', va='center')

# group legend
handles = [Line2D([], [], ls='none', marker='o', ms=7, mfc='none', mec=marker_colors[k], mew=1.6)
           for k in range(3)]
fig.legend(handles, groups, loc='upper left', bbox_to_anchor=(0.004, 1 - 33 / H),
           frameon=False, fontsize=10, handlelength=1.0, handletextpad=1.2,
           labelspacing=0.35, borderaxespad=0)

fig.savefig('out.png', dpi=100)
